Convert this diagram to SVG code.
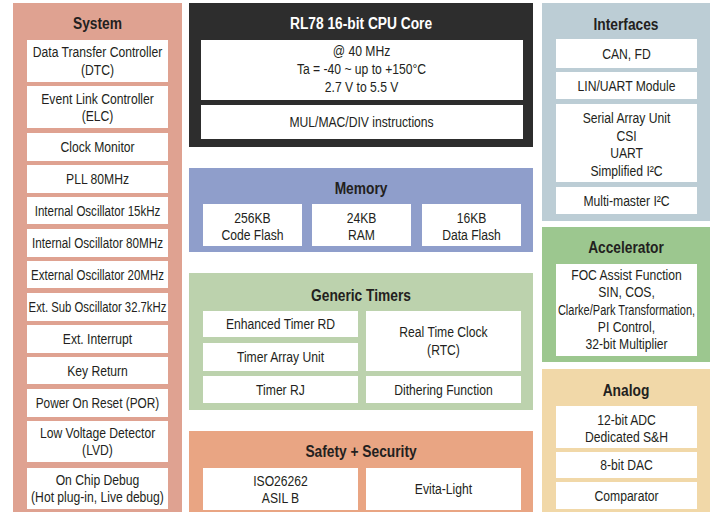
<svg xmlns="http://www.w3.org/2000/svg" width="718" height="512" viewBox="0 0 718 512">
<style>
.t,.h{font-family:"Liberation Sans",Arial,sans-serif;fill:#231F20;text-anchor:middle;transform-box:fill-box;transform-origin:center;transform:scaleX(0.81)}
.t{font-size:15px}
.h{font-size:17px;font-weight:bold}
.hw{fill:#FFFFFF}
.b{fill:#FFFFFF}
</style>
<rect width="718" height="512" fill="#FFFFFF"/>
<g id="system">
<rect x="13" y="3" width="169" height="512" fill="#DFA291"/>
<text class="h" x="97.5" y="29">System</text>
<rect class="b" x="27" y="40" width="141" height="42"/>
<text class="t" x="97.5" y="57.5">Data Transfer Controller</text>
<text class="t" x="97.5" y="75">(DTC)</text>
<rect class="b" x="27" y="86" width="141" height="42"/>
<text class="t" x="97.5" y="104">Event Link Controller</text>
<text class="t" x="97.5" y="121.5">(ELC)</text>
<rect class="b" x="27" y="133" width="141" height="28"/>
<text class="t" x="97.5" y="152.5">Clock Monitor</text>
<rect class="b" x="27" y="165" width="141" height="28"/>
<text class="t" x="97.5" y="184.5">PLL 80MHz</text>
<rect class="b" x="27" y="197" width="141" height="27"/>
<text class="t" x="97.5" y="216.5" style="transform:scaleX(0.77)">Internal Oscillator 15kHz</text>
<rect class="b" x="27" y="229" width="141" height="28"/>
<text class="t" x="97.5" y="248.5" style="transform:scaleX(0.78)">Internal Oscillator 80MHz</text>
<rect class="b" x="27" y="261" width="141" height="27"/>
<text class="t" x="97.5" y="280.5" style="transform:scaleX(0.767)">External Oscillator 20MHz</text>
<rect class="b" x="27" y="293" width="141" height="28"/>
<text class="t" x="97.5" y="312.5" style="transform:scaleX(0.755)">Ext. Sub Oscillator 32.7kHz</text>
<rect class="b" x="27" y="325" width="141" height="28"/>
<text class="t" x="97.5" y="344.5">Ext. Interrupt</text>
<rect class="b" x="27" y="357" width="141" height="27"/>
<text class="t" x="97.5" y="376.5">Key Return</text>
<rect class="b" x="27" y="389" width="141" height="28"/>
<text class="t" x="97.5" y="408.5" style="transform:scaleX(0.79)">Power On Reset (POR)</text>
<rect class="b" x="27" y="421" width="141" height="41"/>
<text class="t" x="97.5" y="438.5">Low Voltage Detector</text>
<text class="t" x="97.5" y="455.5">(LVD)</text>
<rect class="b" x="27" y="468" width="141" height="41"/>
<text class="t" x="97.5" y="485.5">On Chip Debug</text>
<text class="t" x="97.5" y="502.5">(Hot plug-in, Live debug)</text>
</g>
<g id="cpu">
<rect x="189" y="3" width="344" height="144" fill="#2D2D2D"/>
<text class="h hw" x="361" y="29">RL78 16-bit CPU Core</text>
<rect class="b" x="201" y="40" width="322" height="60"/>
<text class="t" x="361.5" y="56.5">@ 40 MHz</text>
<text class="t" x="361.5" y="74.5">Ta = -40 ~ up to +150°C</text>
<text class="t" x="361.5" y="92.5">2.7 V to 5.5 V</text>
<rect class="b" x="201" y="105" width="322" height="34"/>
<text class="t" x="361.5" y="127.5">MUL/MAC/DIV instructions</text>
</g>
<g id="memory">
<rect x="189" y="168" width="344" height="84" fill="#8F9ECB"/>
<text class="h" x="361" y="194">Memory</text>
<rect class="b" x="203" y="204" width="99" height="42"/>
<text class="t" x="252.5" y="223.5">256KB</text>
<text class="t" x="252.5" y="240.5">Code Flash</text>
<rect class="b" x="312" y="204" width="99" height="42"/>
<text class="t" x="361.5" y="223.5">24KB</text>
<text class="t" x="361.5" y="240.5">RAM</text>
<rect class="b" x="422" y="204" width="99" height="42"/>
<text class="t" x="471.5" y="223.5">16KB</text>
<text class="t" x="471.5" y="240.5">Data Flash</text>
</g>
<g id="timers">
<rect x="189" y="273" width="344" height="137" fill="#BCD2AD"/>
<text class="h" x="361" y="301">Generic Timers</text>
<rect class="b" x="203" y="311" width="155" height="26"/>
<text class="t" x="280.5" y="329.5">Enhanced Timer RD</text>
<rect class="b" x="203" y="343" width="155" height="28"/>
<text class="t" x="280.5" y="362.5">Timer Array Unit</text>
<rect class="b" x="203" y="376" width="155" height="27"/>
<text class="t" x="280.5" y="395.5">Timer RJ</text>
<rect class="b" x="366" y="311" width="155" height="60"/>
<text class="t" x="443.5" y="337.5">Real Time Clock</text>
<text class="t" x="443.5" y="355">(RTC)</text>
<rect class="b" x="366" y="376" width="155" height="27"/>
<text class="t" x="443.5" y="395.5">Dithering Function</text>
</g>
<g id="safety">
<rect x="189" y="431" width="344" height="84" fill="#E9A583"/>
<text class="h" x="361" y="457">Safety + Security</text>
<rect class="b" x="203" y="468" width="155" height="42"/>
<text class="t" x="280.5" y="486.5">ISO26262</text>
<text class="t" x="280.5" y="503.5">ASIL B</text>
<rect class="b" x="366" y="468" width="155" height="42"/>
<text class="t" x="443.5" y="494.5">Evita-Light</text>
</g>
<g id="interfaces">
<rect x="542" y="3" width="168" height="218" fill="#BCCDD5"/>
<text class="h" x="626" y="30">Interfaces</text>
<rect class="b" x="556" y="39" width="141" height="29"/>
<text class="t" x="626.5" y="59">CAN, FD</text>
<rect class="b" x="556" y="72" width="141" height="27"/>
<text class="t" x="626.5" y="91.5">LIN/UART Module</text>
<rect class="b" x="556" y="104" width="141" height="78"/>
<text class="t" x="626.5" y="123.5">Serial Array Unit</text>
<text class="t" x="626.5" y="141">CSI</text>
<text class="t" x="626.5" y="158.5">UART</text>
<text class="t" x="626.5" y="176">Simplified I²C</text>
<rect class="b" x="556" y="187" width="141" height="27"/>
<text class="t" x="626.5" y="206">Multi-master I²C</text>
</g>
<g id="accelerator">
<rect x="542" y="227" width="168" height="135" fill="#9CC78F"/>
<text class="h" x="626" y="253">Accelerator</text>
<rect class="b" x="556" y="264" width="141" height="92"/>
<text class="t" x="626.5" y="280.5">FOC Assist Function</text>
<text class="t" x="626.5" y="297.5">SIN, COS,</text>
<text class="t" x="626.5" y="315.5" style="transform:scaleX(0.735)">Clarke/Park Transformation,</text>
<text class="t" x="626.5" y="332.5">PI Control,</text>
<text class="t" x="626.5" y="349.5">32-bit Multiplier</text>
</g>
<g id="analog">
<rect x="542" y="369" width="168" height="146" fill="#F1D8A8"/>
<text class="h" x="626" y="396">Analog</text>
<rect class="b" x="556" y="406" width="141" height="42"/>
<text class="t" x="626.5" y="425">12-bit ADC</text>
<text class="t" x="626.5" y="442">Dedicated S&amp;H</text>
<rect class="b" x="556" y="452" width="141" height="26"/>
<text class="t" x="626.5" y="470.5">8-bit DAC</text>
<rect class="b" x="556" y="482" width="141" height="27"/>
<text class="t" x="626.5" y="501">Comparator</text>
</g>
<g id="connectors"></g>
</svg>
